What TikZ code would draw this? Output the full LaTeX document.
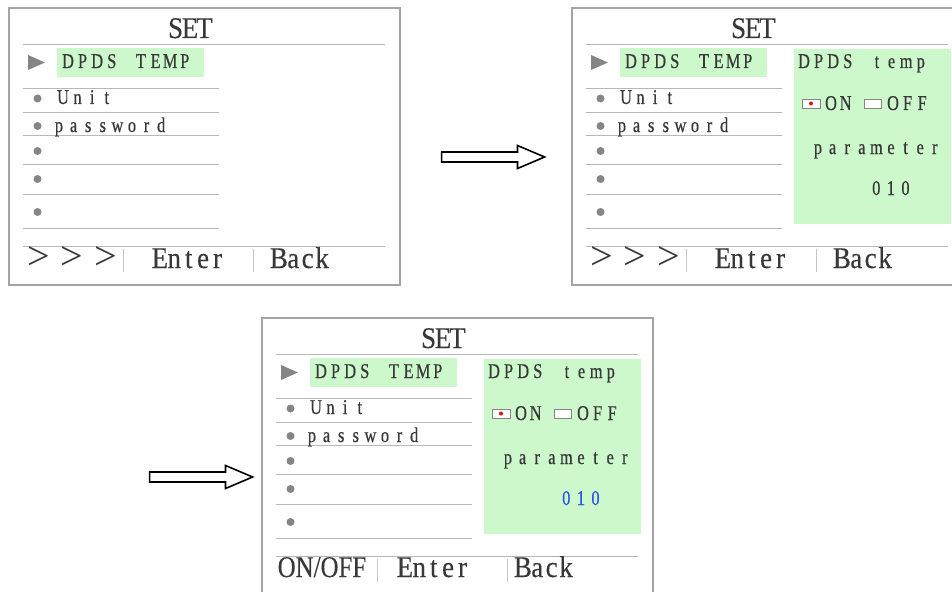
\documentclass[tikz,border=0pt]{standalone}
\usepackage{fontspec}
\setmainfont{Liberation Serif}
\newfontfamily\lcdfont[FakeStretch=0.78,FakeBold=0.5]{Liberation Serif}
\newfontfamily\lcdbigfont[FakeStretch=0.9,FakeBold=0.2]{Liberation Serif}
\newfontfamily\lcdkeyfont[FakeStretch=0.83,FakeBold=0.2]{Liberation Serif}
\usetikzlibrary{shapes.arrows}

\definecolor{lcdgreen}{HTML}{CCF8CC}
\definecolor{framegray}{HTML}{A4A4A4}
\definecolor{rulegray}{HTML}{B8B8B8}
\definecolor{inkgray}{HTML}{383838}
\definecolor{markgray}{HTML}{858585}
\definecolor{valueblue}{HTML}{2F55E0}
\definecolor{dotred}{HTML}{E01010}

% one character per fixed-width cell, like the LCD font
\makeatletter
\newcommand\lcdcells[2]{\@tfor\lcd@tok:=#2\do{\makebox[#1]{\lcd@tok}}}
\makeatother
\newcommand\bigword[1]{\lcdcells{14.4pt}{#1}}
\newcommand\smallword[1]{\lcdcells{14.6pt}{#1}}

\tikzset{
  panelframe/.style={draw=framegray, line width=1.3pt},
  rulestyle/.style={draw=rulegray, line width=0.9pt},
  barstyle/.style={draw=rulegray!80, line width=0.8pt},
  checkbox/.style={draw=markgray, fill=white, line width=0.7pt},
  bigtxt/.style={inner sep=0pt, text=inkgray, anchor=base west,
    font=\lcdbigfont\fontsize{30}{30}\selectfont},
  keytxt/.style={inner sep=0pt, text=inkgray, anchor=base west,
    font=\lcdkeyfont\fontsize{30}{30}\selectfont},
  smalltxt/.style={inner sep=0pt, text=inkgray, anchor=base west,
    font=\lcdfont\fontsize{21}{21}\selectfont},
  moretxt/.style={inner sep=0pt, text=inkgray, anchor=west,
    font=\fontsize{40}{40}\selectfont},
  blockarrow/.style={single arrow, draw=black, fill=white, line width=1.6pt,
    inner xsep=0pt, inner ysep=4.2pt, minimum height=103pt,
    single arrow head extend=6.5pt, single arrow tip angle=46,
    single arrow head indent=0pt, anchor=tail}
}

% frame, title and menu list shared by every screen
\newcommand\menuscreen[1]{%
  \draw[panelframe] (9,8) rectangle (400,285);
  \node[bigtxt, anchor=base] (#1-title) at (190,38) {\bigword{SET}};
  \draw[rulestyle] (23,44) -- (385,44);
  \fill[lcdgreen] (57,48) rectangle (204,77);
  \fill[markgray] (28,55) -- (45,62.5) -- (28,70) -- cycle;
  \node[smalltxt] (#1-sel) at (60.5,68) {\smallword{DPDS~TEMP}};
  \foreach \ry in {88,112,135,164,194,228}
    \draw[rulestyle] (23,\ry) -- (219,\ry);
  \foreach \by in {98.5,126,151,179,212}
    \fill[markgray] (37.5,\by) circle (4pt);
  \node[smalltxt] (#1-unit) at (55.5,104) {\smallword{Unit}};
  \node[smalltxt] (#1-pass) at (51.5,132) {\smallword{password}};
  \draw[rulestyle] (23,246) -- (385,246);
}

% soft-key row with the >>> key
\newcommand\pagekeys[1]{%
  \node[moretxt] (#1-more) at (21.75,258) {\lcdcells{33.5pt}{>>>}};
  \draw[barstyle] (123,249) -- (123,272);
  \node[bigtxt] (#1-enter) at (152.5,268) {\bigword{Enter}};
  \draw[barstyle] (253,249) -- (253,272);
  \node[bigtxt] (#1-back) at (271.5,268) {\bigword{Back}};
}

% DPDS temp settings pane; #2 is the colour of the value
\newcommand\temppane[2]{%
  \fill[lcdgreen] (231,49) rectangle (388,224);
  \node[smalltxt] (#1-head) at (233.5,68) {\smallword{DPDS~temp}};
  \draw[checkbox] (239,99) rectangle (257,108);
  \fill[dotred] (248,103.5) circle (2pt);
  \node[smalltxt] (#1-on) at (260.5,110) {\smallword{ON}};
  \draw[checkbox] (301,99) rectangle (318,108);
  \node[smalltxt] (#1-off) at (322.5,110) {\smallword{OFF}};
  \node[smalltxt] (#1-par) at (247.5,154) {\smallword{parameter}};
  \node[smalltxt, text=#2] (#1-val) at (305.8,195) {\smallword{010}};
}

\begin{document}
\begin{tikzpicture}[x=1pt,y=-1pt]
  \useasboundingbox (0,0) rectangle (952,591);
  \clip (0,0) rectangle (952,591);
  \fill[white] (0,0) rectangle (952,591);

  % menu screen
  \begin{scope}
    \menuscreen{s1}
    \pagekeys{s1}
  \end{scope}

  % settings pane opened
  \begin{scope}[shift={(563,0)}]
    \menuscreen{s2}
    \temppane{s2}{inkgray}
    \pagekeys{s2}
  \end{scope}

  % value being edited
  \begin{scope}[shift={(253,310)}]
    \menuscreen{s3}
    \temppane{s3}{valueblue}
    \node[keytxt] (s3-onoff) at (24.5,267) {ON/OFF};
    \draw[barstyle] (124,249) -- (124,272);
    \node[bigtxt] (s3-enter) at (144.5,267) {\bigword{Enter}};
    \draw[barstyle] (254,249) -- (254,272);
    \node[bigtxt] (s3-back) at (262.5,267) {\bigword{Back}};
  \end{scope}

  % step arrows
  \node[blockarrow] (stepA) at (440.8,157) {};
  \node[blockarrow] (stepB) at (148.8,477) {};
\end{tikzpicture}
\end{document}
